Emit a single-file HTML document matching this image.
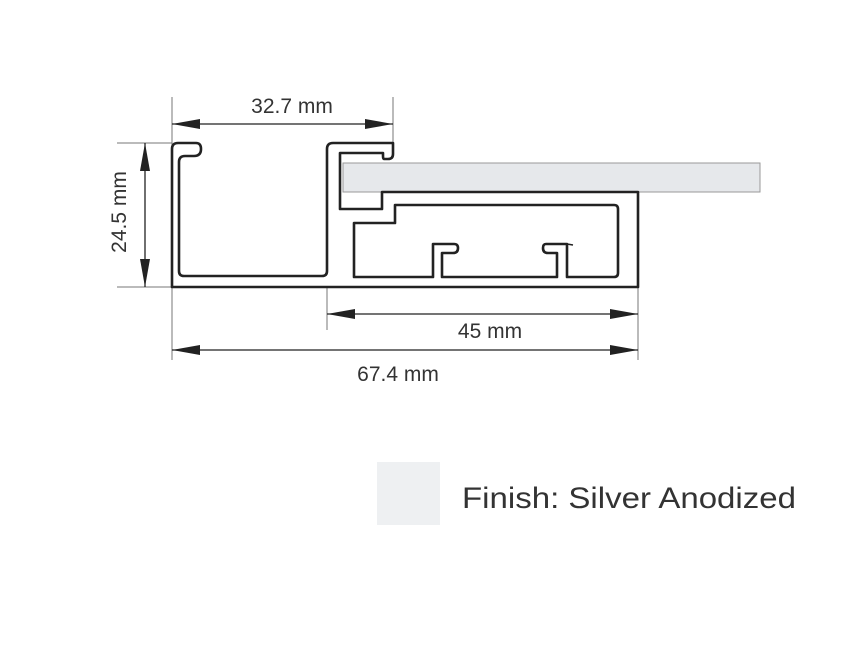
<!DOCTYPE html>
<html><head><meta charset="utf-8"><style>
html,body{margin:0;padding:0;background:#fff;}
svg{display:block;}
text{font-family:"Liberation Sans",sans-serif;fill:#333;}
</style></head><body>
<svg width="866" height="650" viewBox="0 0 866 650" xmlns="http://www.w3.org/2000/svg">
<defs>
<marker id="a" viewBox="0 0 28 10" refX="28" refY="5" markerWidth="28" markerHeight="10" markerUnits="userSpaceOnUse" orient="auto-start-reverse">
<path d="M0,0 L28,5 L0,10 Z" fill="#222"/>
</marker>
</defs>
<g stroke="#777" stroke-width="1" fill="none">
<line x1="172" y1="97" x2="172" y2="360"/>
<line x1="393" y1="97" x2="393" y2="143"/>
<line x1="327" y1="287" x2="327" y2="330"/>
<line x1="638" y1="192" x2="638" y2="360"/>
<line x1="117" y1="143" x2="172" y2="143"/>
<line x1="117" y1="287" x2="172" y2="287"/>
</g>
<g stroke="#222" stroke-width="1.3">
<line x1="172" y1="124" x2="393" y2="124" marker-start="url(#a)" marker-end="url(#a)"/>
<line x1="145" y1="143" x2="145" y2="287" marker-start="url(#a)" marker-end="url(#a)"/>
<line x1="327" y1="314" x2="638" y2="314" marker-start="url(#a)" marker-end="url(#a)"/>
<line x1="172" y1="350" x2="638" y2="350" marker-start="url(#a)" marker-end="url(#a)"/>
</g>
<text x="292" y="113" font-size="21" text-anchor="middle">32.7 mm</text>
<text x="490" y="338" font-size="21" text-anchor="middle">45 mm</text>
<text x="398" y="381" font-size="21" text-anchor="middle">67.4 mm</text>
<text x="0" y="0" font-size="21" text-anchor="middle" transform="translate(126,212) rotate(-90)">24.5 mm</text>
<rect x="343" y="163" width="417" height="29" fill="#e6e8eb" stroke="#999" stroke-width="1"/>
<g stroke="#222" stroke-width="2.6" fill="none" stroke-linejoin="round">
<path d="M172,287 L172,149 Q172,143 178,143 L196,143 Q201,143 201,149 Q201,156 194,156 L185,156 Q179,156 179,162 L179,271 Q179,276 184,276 L322,276 Q327,276 327,271 L327,149 Q327,143 333,143 L393,143 L393,154 Q393,159 388,159 L384,159 Q383,159 383,156 L383,153 L340,153 L340,209 L382,209 L382,192 L638,192 L638,287 Z"/>
<path d="M354,277 L354,223 L395,223 L395,205 L614,205 Q618,205 618,209 L618,273 Q618,277 614,277 L567,277 L567,244 L546,244 Q543,244 543,248 Q543,253 548,253 L557,253 L557,277 L442,277 L442,253 L453,253 Q458,253 458,248 Q458,244 454,244 L433,244 L433,277 Z"/>
</g>
<line x1="567" y1="244" x2="573" y2="245" stroke="#222" stroke-width="1.5"/>
<rect x="377" y="462" width="63" height="63" fill="#eef0f2"/>
<text x="462" y="508" font-size="30" textLength="334" lengthAdjust="spacingAndGlyphs">Finish: Silver Anodized</text>
</svg>
</body></html>
